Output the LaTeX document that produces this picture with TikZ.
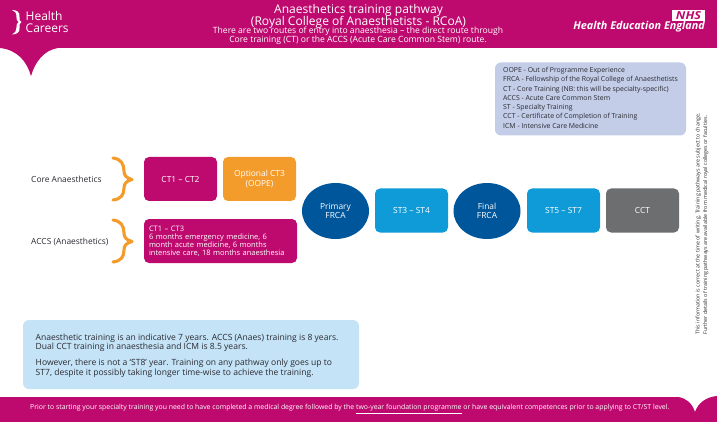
\documentclass[tikz,border=0pt]{standalone}
\usepackage{fontspec}
\setmainfont{Open Sans}
\definecolor{mag}{HTML}{BE0A6E}
\definecolor{org}{HTML}{F39C2C}
\definecolor{navy}{HTML}{00569B}
\definecolor{sky}{HTML}{0E9BD8}
\definecolor{gry}{HTML}{6D6E70}
\definecolor{lil}{HTML}{C3CDE8}
\definecolor{pale}{HTML}{C4E3F6}
\definecolor{txt}{HTML}{2B2B33}
\tikzset{
 x=1pt,y=-1pt,
 box/.style={draw=none,rounded corners=5pt,minimum height=44pt,minimum width=73pt,inner sep=0pt,text=white,align=center,font=\fontsize{8.4}{9.5}\selectfont},
 oval/.style={ellipse,fill=navy,minimum width=67pt,minimum height=56pt,inner sep=0pt,text=white,align=center,font=\fontsize{8.4}{9.5}\selectfont},
 lab/.style={text=txt,font=\fontsize{8.4}{9}\selectfont,inner sep=0pt},
 brace/.style={draw=org,line width=3.1pt,line cap=round,line join=round},
 keyline/.style={anchor=west,inner sep=0pt,text=txt,font=\fontsize{6.9}{7}\selectfont},
 head/.style={text=white,inner sep=0pt,font=\fontsize{12.05}{12}\selectfont},
 sub/.style={text=white,inner sep=0pt,font=\fontsize{8.6}{9}\selectfont}
}
\usetikzlibrary{shapes.geometric}
\begin{document}
\begin{tikzpicture}
\useasboundingbox (0,0) rectangle (717,422);
\fill[white] (0,0) rectangle (717,422);
% header band with notch
\fill[mag] (0,0) -- (717,0) -- (717,48) -- (58,48) .. controls (44,50) and (35,62) .. (31,76) .. controls (27,62) and (18,50) .. (0,48) -- cycle;
% footer band with notch
\fill[mag] (0,397) -- (678,397) .. controls (686,398) and (692,403) .. (695,412) .. controls (698,403) and (706,397) .. (717,396) -- (717,422) -- (0,422) -- cycle;
% logos
\fill[white] (12,10) .. controls (17,10) and (20,12) .. (19.5,17) .. controls (19.2,20) and (19.5,21) .. (21.5,22) .. controls (19.5,23) and (19.2,25) .. (19.5,28) .. controls (20,32) and (17,34.5) .. (12,34.5) .. controls (15,33) and (16.6,31) .. (16.4,28) .. controls (16.2,25) and (17,23) .. (18.5,22) .. controls (17,21) and (16.2,19) .. (16.4,16.5) .. controls (16.6,13) and (15,11) .. (12,10) -- cycle;
\node[text=white,inner sep=0pt,anchor=west,align=left,font=\fontsize{12}{12}\selectfont] (hc) at (25.5,22) {Health\\Careers};
\node[fill=white,text=mag,inner sep=0pt,minimum width=33pt,minimum height=11pt,font=\fontsize{11}{11}\selectfont\bfseries\itshape] (nhs) at (688.5,15.5) {\scalebox{1.15}[1]{NHS}};
\node[text=white,inner sep=0pt,anchor=east,font=\fontsize{10.8}{11}\selectfont\bfseries\itshape] (hee) at (705,26.5) {Health Education England};
% titles
\node[head] (t1) at (358.5,10.5) {Anaesthetics training pathway};
\node[head] (t2) at (358.5,22.5) {(Royal College of Anaesthetists - RCoA)};
\node[sub] (t3) at (358,31.5) {There are two routes of entry into anaesthesia – the direct route through};
\node[sub] (t4) at (358,40.5) {Core training (CT) or the ACCS (Acute Care Common Stem) route.};
% key
\node[fill=lil,rounded corners=6pt,minimum width=191pt,minimum height=73pt,inner sep=0pt] (key) at (590.5,99) {};
\node[keyline] (k1) at (503,71) {OOPE - Out of Programme Experience};
\node[keyline] (k2) at (503,80) {FRCA - Fellowship of the Royal College of Anaesthetists};
\node[keyline] (k3) at (503,89.5) {CT - Core Training (NB: this will be specialty-specific)};
\node[keyline] (k4) at (503,98.5) {ACCS - Acute Care Common Stem};
\node[keyline] (k5) at (503,108) {ST - Specialty Training};
\node[keyline] (k6) at (503,117) {CCT - Certificate of Completion of Training};
\node[keyline] (k7) at (503,126) {ICM - Intensive Care Medicine};
% row labels
\node[lab,anchor=west] (core) at (31,179.5) {Core Anaesthetics};
\node[lab,anchor=west] (accs) at (31,241.5) {ACCS (Anaesthetics)};
% braces
\draw[brace] (113,158) .. controls (121,159) and (124,164) .. (124,171) .. controls (124,175) and (126,178) .. (132,179.5) .. controls (126,181) and (124,184) .. (124,188) .. controls (124,195) and (121,199) .. (113,200);
\draw[brace] (113,220) .. controls (121,221) and (124,226) .. (124,233) .. controls (124,237) and (126,240) .. (132,241.5) .. controls (126,243) and (124,246) .. (124,250) .. controls (124,257) and (121,261) .. (113,262);
% boxes
\node[box,fill=mag] (ct12) at (180.5,179) {CT1 – CT2};
\node[box,fill=org] (ct3) at (259.5,179) {Optional CT3\\(OOPE)};
\node[box,fill=mag,minimum width=153pt,text width=143pt,align=left,font=\fontsize{7.5}{8}\selectfont] (accsbox) at (220.5,241) {CT1 – CT3\\6 months emergency medicine, 6\\month acute medicine, 6 months\\intensive care, 18 months anaesthesia};
\node[oval] (pf) at (335.5,211) {Primary\\FRCA};
\node[box,fill=sky] (st34) at (411.5,210.5) {ST3 – ST4};
\node[oval] (ff) at (487,211) {Final\\FRCA};
\node[box,fill=sky] (st57) at (563.5,210.5) {ST5 – ST7};
\node[box,fill=gry] (cct) at (642.5,210.5) {CCT};
% note
\node[fill=pale,rounded corners=6pt,minimum width=336pt,minimum height=69pt,inner sep=0pt] (note) at (191,354.5) {};
\node[anchor=north west,inner sep=0pt,text=txt,align=left,font=\fontsize{8.55}{9.3}\selectfont] (notetext) at (35.5,334) {Anaesthetic training is an indicative 7 years. ACCS (Anaes) training is 8 years.\\Dual CCT training in anaesthesia and ICM is 8.5 years.\\[6.6pt]However, there is not a ‘ST8’ year. Training on any pathway only goes up to\\ST7, despite it possibly taking longer time-wise to achieve the training.};
% footer text
\node[text=white,inner sep=0pt,anchor=west,font=\fontsize{6.9}{7}\selectfont] (foot) at (30,409) {Prior to starting your specialty training you need to have completed a medical degree followed by the \underline{two-year foundation programme} or have equivalent competences prior to applying to CT/ST level.};
% side text
\node[rotate=90,anchor=center,inner sep=0pt,text=txt,align=left,font=\fontsize{5.3}{7.4}\selectfont] (side) at (702,224) {This information is correct at the time of writing. Training pathways are subject to change.\\Further details of training pathways are available from medical royal colleges or faculties.};
\end{tikzpicture}
\end{document}
